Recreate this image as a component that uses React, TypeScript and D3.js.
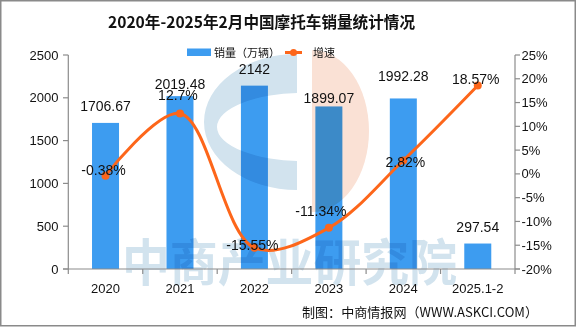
import React from "react";
import * as d3 from "d3";

const categories = ["2020", "2021", "2022", "2023", "2024", "2025.1-2"];
const sales = [1706.67, 2019.48, 2142, 1899.07, 1992.28, 297.54];
const growth = [-0.38, 12.7, -15.55, -11.34, 2.82, 18.57];
const leftTicks = [0, 500, 1000, 1500, 2000, 2500];
const rightTicks = [-20, -15, -10, -5, 0, 5, 10, 15, 20, 25];
const salesLabelDy = [-11.5, -7.5, -12, -3, -17, -12];
const growthLabelDx = [-2, -2, -2, -8, 2, -2];
const growthLabelDy = [-1, -13, 2, -12, 7, -2];

const W = 576;
const H = 327;
const BAR = "#3d9cf0";
const LINE = "#fd661a";
const AXIS = "#8c8c8c";
const NUM = "'Liberation Sans', Arial, sans-serif";
const CJK = "'Noto Sans CJK SC', sans-serif";

export default function App() {
  const x = d3.scaleBand<string>().domain(categories).range([68.3, 515]).padding(0);
  const yL = d3.scaleLinear().domain([0, 2500]).range([269, 55]);
  const yR = d3.scaleLinear().domain([-20, 25]).range([269, 55]);
  const bw = 27;
  const cx = (c: string) => (x(c) as number) + x.bandwidth() / 2;

  const pts: [number, number][] = growth.map((g, i) => [cx(categories[i]), yR(g)]);
  const line = d3.line().curve(d3.curveCatmullRom.alpha(0.5))(pts) || "";

  const ell = (cxx: number, cyy: number, rx: number, ry: number) =>
    `M${cxx - rx},${cyy} a${rx},${ry} 0 1 0 ${2 * rx},0 a${rx},${ry} 0 1 0 ${-2 * rx},0 Z`;

  const boundaries = d3.range(categories.length + 1).map((i) => 68.3 + i * x.bandwidth());

  return (
    <svg
      width={W}
      height={H}
      style={{ position: "absolute", left: 0, top: 0, background: "#fff" }}
    >
      <rect x={0.75} y={0.75} width={W - 1.5} height={H - 2} fill="#fff" stroke="#8a8a8a" strokeWidth={1.5} />
      <text
        x={261.5}
        y={28}
        textAnchor="middle"
        fontFamily={CJK}
        fontWeight="bold"
        fontSize={16}
        textLength={307}
        lengthAdjust="spacingAndGlyphs"
        fill="#111"
      >
        2020年-2025年2月中国摩托车销量统计情况
      </text>

      {/* bars */}
      {sales.map((v, i) => (
        <rect
          key={"b" + i}
          x={cx(categories[i]) - bw / 2}
          y={yL(v)}
          width={bw}
          height={yL(0) - yL(v)}
          fill={BAR}
        />
      ))}

      {/* watermark logo */}
      <g style={{ mixBlendMode: "multiply" }}>
        <defs>
          <clipPath id="cclip">
            <rect x={150} y={40} width={147} height={200} />
          </clipPath>
        </defs>
        <path
          d={ell(297, 122, 93, 68) + " " + ell(303, 127, 86, 34)}
          fillRule="evenodd"
          fill="#d2e3ee"
          clipPath="url(#cclip)"
        />
        <path d="M312,50 L312,212 A57,81 0 0 0 312,50 Z" fill="#fae1d5" />
        <text
          x={122}
          y={281}
          fontFamily={CJK}
          fontWeight="bold"
          fontSize={50}
          textLength={335}
          lengthAdjust="spacingAndGlyphs"
          fill="#d2e3ee"
        >
          中商产业研究院
        </text>
      </g>

      {/* legend */}
      <rect x={187} y={48.5} width={24} height={7.5} fill={BAR} />
      <text x={214} y={56.5} fontFamily={CJK} fontSize={11} fill="#111">
        销量（万辆）
      </text>
      <line x1={285} x2={302} y1={52.5} y2={52.5} stroke={LINE} strokeWidth={3} />
      <circle cx={293.5} cy={52.5} r={3.5} fill={LINE} />
      <text x={313} y={56.5} fontFamily={CJK} fontSize={11} fill="#111">
        增速
      </text>

      {/* axes */}
      <g stroke={AXIS} strokeWidth={1.2} fill="none">
        <line x1={68.3} x2={68.3} y1={55} y2={269} />
        <line x1={515} x2={515} y1={55} y2={269} />
        <line x1={63} x2={520} y1={269} y2={269} />
        {leftTicks.map((t) => (
          <line key={"lt" + t} x1={63} x2={68.3} y1={yL(t)} y2={yL(t)} />
        ))}
        {rightTicks.map((t) => (
          <line key={"rt" + t} x1={515} x2={520} y1={yR(t)} y2={yR(t)} />
        ))}
        {boundaries.map((b, i) => (
          <line key={"xt" + i} x1={b} x2={b} y1={269} y2={274} />
        ))}
      </g>
      {leftTicks.map((t) => (
        <text key={"ll" + t} x={58.5} y={yL(t) + 4.5} textAnchor="end" fontFamily={NUM} fontSize={13} fill="#111">
          {t}
        </text>
      ))}
      {rightTicks.map((t) => (
        <text key={"rl" + t} x={521.5} y={yR(t) + 4.5} fontFamily={NUM} fontSize={13} fill="#111">
          {t + "%"}
        </text>
      ))}
      {categories.map((c) => (
        <text key={"xl" + c} x={cx(c)} y={293} textAnchor="middle" fontFamily={NUM} fontSize={13} fill="#111">
          {c}
        </text>
      ))}

      {/* line */}
      <path d={line} fill="none" stroke={LINE} strokeWidth={3} />
      {pts.map((p, i) => (
        <circle key={"p" + i} cx={p[0]} cy={p[1]} r={4} fill={LINE} />
      ))}

      {/* labels */}
      {sales.map((v, i) => (
        <text
          key={"sl" + i}
          x={cx(categories[i])}
          y={yL(v) + salesLabelDy[i]}
          textAnchor="middle"
          fontFamily={NUM}
          fontSize={14}
          fill="#111"
        >
          {String(v)}
        </text>
      ))}
      {growth.map((g, i) => (
        <text
          key={"gl" + i}
          x={pts[i][0] + growthLabelDx[i]}
          y={pts[i][1] + growthLabelDy[i]}
          textAnchor="middle"
          fontFamily={NUM}
          fontSize={14}
          fill="#111"
        >
          {g + "%"}
        </text>
      ))}

      <text
        x={302}
        y={317}
        fontFamily={CJK}
        fontSize={13}
        textLength={236}
        lengthAdjust="spacingAndGlyphs"
        fill="#111"
      >
        制图：中商情报网（WWW.ASKCI.COM）
      </text>
    </svg>
  );
}
